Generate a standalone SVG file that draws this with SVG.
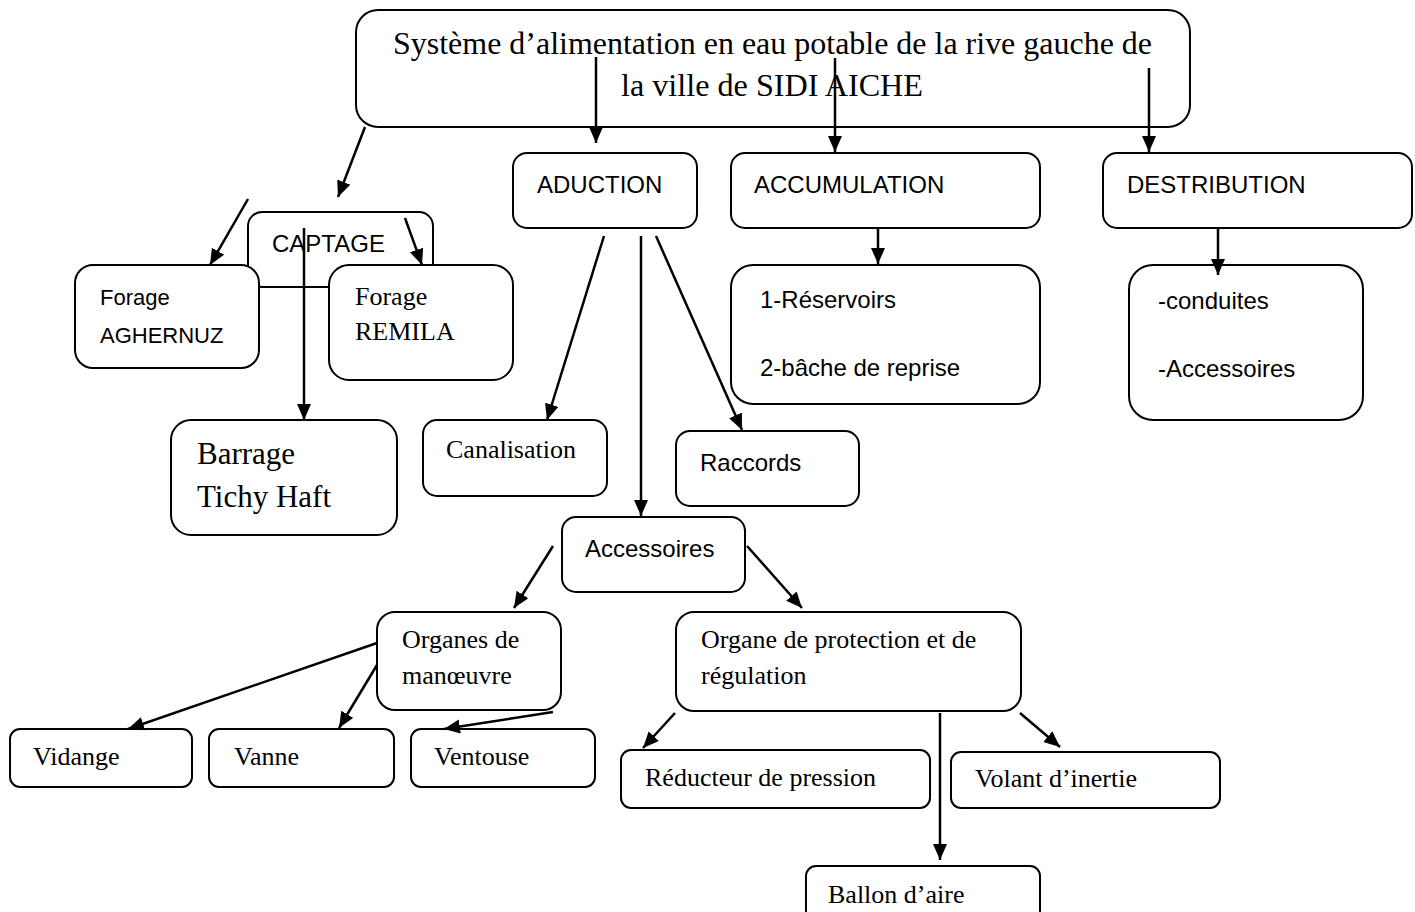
<svg xmlns="http://www.w3.org/2000/svg" width="1415" height="912" viewBox="0 0 1415 912">
<style>
.b{fill:#fff;stroke:#000;stroke-width:2}
.s{font-family:"Liberation Sans",Arial,sans-serif;font-size:24px;fill:#000}
.t{font-family:"Liberation Serif","Times New Roman",serif;font-size:26px;fill:#000}
.c line{stroke:#000;stroke-width:2.5;marker-end:url(#ah)}
</style>
<defs>
<marker id="ah" markerUnits="userSpaceOnUse" markerWidth="18" markerHeight="16" refX="16" refY="7" orient="auto">
<path d="M0,0 L16,7 L0,14 z" fill="#000"/>
</marker>
</defs>
<rect width="1415" height="912" fill="#fff"/>
<g id="n-root"><rect class="b" x="356" y="10" width="834" height="117" rx="22"/>
<text class="t" style="font-size:31px" x="393" y="54" textLength="759" lengthAdjust="spacingAndGlyphs">Système d’alimentation en eau potable de la rive gauche de</text>
<text class="t" style="font-size:31px" x="621" y="96" textLength="302" lengthAdjust="spacingAndGlyphs">la ville de SIDI AICHE</text></g>
<g id="n-aduction"><rect class="b" x="513" y="153" width="184" height="75" rx="14"/><text class="s" x="537" y="193">ADUCTION</text></g>
<g id="n-accumulation"><rect class="b" x="731" y="153" width="309" height="75" rx="14"/><text class="s" x="754" y="193">ACCUMULATION</text></g>
<g id="n-destribution"><rect class="b" x="1103" y="153" width="309" height="75" rx="14"/><text class="s" x="1127" y="193">DESTRIBUTION</text></g>
<g id="n-captage"><rect class="b" x="248" y="212" width="185" height="75" rx="14"/><text class="s" x="272" y="252">CAPTAGE</text></g>
<g id="n-aghernuz"><rect class="b" x="75" y="265" width="184" height="103" rx="18"/><text class="s" style="font-size:22px" x="100" y="305">Forage</text><text class="s" style="font-size:22px" x="100" y="343">AGHERNUZ</text></g>
<g id="n-remila"><rect class="b" x="329" y="265" width="184" height="115" rx="20"/><text class="t" x="355" y="305">Forage</text><text class="t" x="355" y="340">REMILA</text></g>
<g id="n-reservoirs"><rect class="b" x="731" y="265" width="309" height="139" rx="22"/><text class="s" x="760" y="308">1-Réservoirs</text><text class="s" x="760" y="376">2-bâche de reprise</text></g>
<g id="n-conduites"><rect class="b" x="1129" y="265" width="234" height="155" rx="24"/><text class="s" x="1158" y="309">-conduites</text><text class="s" x="1158" y="377">-Accessoires</text></g>
<g id="n-barrage"><rect class="b" x="171" y="420" width="226" height="115" rx="20"/><text class="t" style="font-size:31px" x="197" y="464">Barrage</text><text class="t" style="font-size:31px" x="197" y="507">Tichy Haft</text></g>
<g id="n-canalisation"><rect class="b" x="423" y="420" width="184" height="76" rx="14"/><text class="t" x="446" y="458">Canalisation</text></g>
<g id="n-raccords"><rect class="b" x="676" y="431" width="183" height="75" rx="14"/><text class="s" x="700" y="471">Raccords</text></g>
<g id="n-accessoires"><rect class="b" x="562" y="517" width="183" height="75" rx="14"/><text class="s" x="585" y="557">Accessoires</text></g>
<g id="n-organes"><rect class="b" x="377" y="612" width="184" height="98" rx="18"/><text class="t" x="402" y="648">Organes de</text><text class="t" x="402" y="684">manœuvre</text></g>
<g id="n-protection"><rect class="b" x="676" y="612" width="345" height="99" rx="18"/><text class="t" x="701" y="648">Organe de protection et de</text><text class="t" x="701" y="684">régulation</text></g>
<g id="n-vidange"><rect class="b" x="10" y="729" width="182" height="58" rx="10"/><text class="t" x="33" y="765">Vidange</text></g>
<g id="n-vanne"><rect class="b" x="209" y="729" width="185" height="58" rx="10"/><text class="t" x="234" y="765">Vanne</text></g>
<g id="n-ventouse"><rect class="b" x="411" y="729" width="184" height="58" rx="10"/><text class="t" x="434" y="765">Ventouse</text></g>
<g id="n-reducteur"><rect class="b" x="621" y="750" width="309" height="58" rx="10"/><text class="t" x="645" y="786">Réducteur de pression</text></g>
<g id="n-volant"><rect class="b" x="951" y="752" width="269" height="56" rx="10"/><text class="t" x="975" y="787">Volant d’inertie</text></g>
<g id="n-ballon"><rect class="b" x="806" y="866" width="234" height="60" rx="10"/><text class="t" x="828" y="903">Ballon d’aire</text></g>
<g id="connectors" class="c">
<line x1="365" y1="127" x2="338" y2="197"/>
<line x1="596" y1="57" x2="596" y2="143"/>
<line x1="835" y1="58" x2="835" y2="152"/>
<line x1="1149" y1="68" x2="1149" y2="152"/>
<line x1="878" y1="229" x2="878" y2="264"/>
<line x1="1218" y1="229" x2="1218" y2="275"/>
<line x1="248" y1="199" x2="210" y2="265"/>
<line x1="405" y1="218" x2="422" y2="265"/>
<line x1="304" y1="228" x2="304" y2="420"/>
<line x1="604" y1="236" x2="547" y2="420"/>
<line x1="641" y1="236" x2="641" y2="516"/>
<line x1="656" y1="236" x2="742" y2="430"/>
<line x1="553" y1="546" x2="514" y2="608"/>
<line x1="747" y1="546" x2="802" y2="608"/>
<line x1="377" y1="643" x2="128" y2="729"/>
<line x1="377" y1="665" x2="339" y2="728"/>
<line x1="553" y1="712" x2="444" y2="729"/>
<line x1="675" y1="713" x2="643" y2="748"/>
<line x1="940" y1="713" x2="940" y2="860"/>
<line x1="1020" y1="713" x2="1060" y2="747"/>
</g>
</svg>
